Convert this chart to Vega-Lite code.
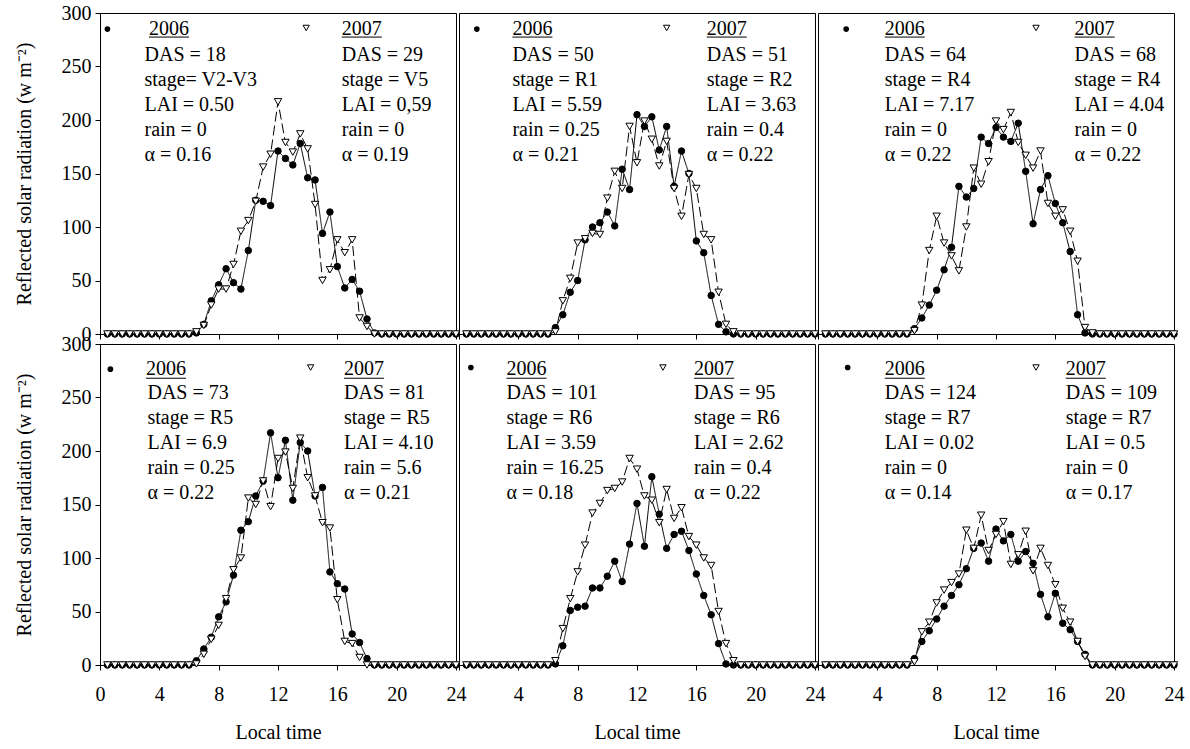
{
"$schema":"https://vega.github.io/schema/vega-lite/v6.json",
"background":"white",
"padding":{"left":13,"top":2,"right":5,"bottom":5},
"bounds":"flush",
"columns":3,
"spacing":{"row":10,"column":3},
"config":{"font":"Liberation Serif","view":{"stroke":"black","strokeWidth":1},
"axis":{"labelFont":"Liberation Serif","labelFontSize":20,"labelColor":"black","titleFont":"Liberation Serif","titleFontSize":20,"titleFontWeight":"normal","titleColor":"black","domainColor":"black","tickColor":"black","grid":false,"labelFlush":false}},
"datasets":{
"notes":[
{"p":1,"year":"y2006","head":"2006","body":"DAS = 18\nstage= V2-V3\nLAI = 0.50\nrain = 0\nα = 0.16"},
{"p":1,"year":"y2007","head":"2007","body":"DAS = 29\nstage = V5\nLAI = 0,59\nrain = 0\nα = 0.19"},
{"p":2,"year":"y2006","head":"2006","body":"DAS = 50\nstage = R1\nLAI = 5.59\nrain = 0.25\nα = 0.21"},
{"p":2,"year":"y2007","head":"2007","body":"DAS = 51\nstage = R2\nLAI = 3.63\nrain = 0.4\nα = 0.22"},
{"p":3,"year":"y2006","head":"2006","body":"DAS = 64\nstage = R4\nLAI = 7.17\nrain = 0\nα = 0.22"},
{"p":3,"year":"y2007","head":"2007","body":"DAS = 68\nstage = R4\nLAI = 4.04\nrain = 0\nα = 0.22"},
{"p":4,"year":"y2006","head":"2006","body":"DAS = 73\nstage = R5\nLAI = 6.9\nrain = 0.25\nα = 0.22"},
{"p":4,"year":"y2007","head":"2007","body":"DAS = 81\nstage = R5\nLAI = 4.10\nrain = 5.6\nα = 0.21"},
{"p":5,"year":"y2006","head":"2006","body":"DAS = 101\nstage = R6\nLAI = 3.59\nrain = 16.25\nα = 0.18"},
{"p":5,"year":"y2007","head":"2007","body":"DAS = 95\nstage = R6\nLAI = 2.62\nrain = 0.4\nα = 0.22"},
{"p":6,"year":"y2006","head":"2006","body":"DAS = 124\nstage = R7\nLAI = 0.02\nrain = 0\nα = 0.14"},
{"p":6,"year":"y2007","head":"2007","body":"DAS = 109\nstage = R7\nLAI = 0.5\nrain = 0\nα = 0.17"}
],
"obs":[
{"p":1,"t":0.5,"y2006":0,"y2007":0},{"p":1,"t":1,"y2006":0,"y2007":0},{"p":1,"t":1.5,"y2006":0,"y2007":0},{"p":1,"t":2,"y2006":0,"y2007":0},{"p":1,"t":2.5,"y2006":0,"y2007":0},{"p":1,"t":3,"y2006":0,"y2007":0},{"p":1,"t":3.5,"y2006":0,"y2007":0},{"p":1,"t":4,"y2006":0,"y2007":0},{"p":1,"t":4.5,"y2006":0,"y2007":0},{"p":1,"t":5,"y2006":0,"y2007":0},{"p":1,"t":5.5,"y2006":0,"y2007":0},{"p":1,"t":6,"y2006":0,"y2007":0},
{"p":1,"t":6.5,"y2006":1,"y2007":2},{"p":1,"t":7,"y2006":9,"y2007":8},{"p":1,"t":7.5,"y2006":31,"y2007":27},{"p":1,"t":8,"y2006":46,"y2007":42},{"p":1,"t":8.5,"y2006":61,"y2007":42},{"p":1,"t":9,"y2006":48,"y2007":65},{"p":1,"t":9.5,"y2006":42,"y2007":96},{"p":1,"t":10,"y2006":78,"y2007":106},{"p":1,"t":10.5,"y2006":125,"y2007":124},{"p":1,"t":11,"y2006":124,"y2007":156},{"p":1,"t":11.5,"y2006":120,"y2007":168},{"p":1,"t":12,"y2006":171,"y2007":217},{"p":1,"t":12.5,"y2006":164,"y2007":179},{"p":1,"t":13,"y2006":158,"y2007":170},{"p":1,"t":13.5,"y2006":178,"y2007":187},{"p":1,"t":14,"y2006":146,"y2007":173},{"p":1,"t":14.5,"y2006":144,"y2007":121},{"p":1,"t":15,"y2006":94,"y2007":50},{"p":1,"t":15.5,"y2006":114,"y2007":60},{"p":1,"t":16,"y2006":63,"y2007":88},{"p":1,"t":16.5,"y2006":43,"y2007":76},{"p":1,"t":17,"y2006":51,"y2007":88},{"p":1,"t":17.5,"y2006":40,"y2007":15},{"p":1,"t":18,"y2006":14,"y2007":7},{"p":1,"t":18.5,"y2006":1,"y2007":0},
{"p":1,"t":19,"y2006":0,"y2007":0},{"p":1,"t":19.5,"y2006":0,"y2007":0},{"p":1,"t":20,"y2006":0,"y2007":0},{"p":1,"t":20.5,"y2006":0,"y2007":0},{"p":1,"t":21,"y2006":0,"y2007":0},{"p":1,"t":21.5,"y2006":0,"y2007":0},{"p":1,"t":22,"y2006":0,"y2007":0},{"p":1,"t":22.5,"y2006":0,"y2007":0},{"p":1,"t":23,"y2006":0,"y2007":0},{"p":1,"t":23.5,"y2006":0,"y2007":0},{"p":1,"t":24,"y2006":0,"y2007":0},
{"p":2,"t":0.5,"y2006":0,"y2007":0},{"p":2,"t":1,"y2006":0,"y2007":0},{"p":2,"t":1.5,"y2006":0,"y2007":0},{"p":2,"t":2,"y2006":0,"y2007":0},{"p":2,"t":2.5,"y2006":0,"y2007":0},{"p":2,"t":3,"y2006":0,"y2007":0},{"p":2,"t":3.5,"y2006":0,"y2007":0},{"p":2,"t":4,"y2006":0,"y2007":0},{"p":2,"t":4.5,"y2006":0,"y2007":0},{"p":2,"t":5,"y2006":0,"y2007":0},{"p":2,"t":5.5,"y2006":0,"y2007":0},{"p":2,"t":6,"y2006":0,"y2007":0},
{"p":2,"t":6.5,"y2006":6,"y2007":2},{"p":2,"t":7,"y2006":18,"y2007":31},{"p":2,"t":7.5,"y2006":39,"y2007":52},{"p":2,"t":8,"y2006":50,"y2007":85},{"p":2,"t":8.5,"y2006":88,"y2007":89},{"p":2,"t":9,"y2006":100,"y2007":94},{"p":2,"t":9.5,"y2006":104,"y2007":93},{"p":2,"t":10,"y2006":114,"y2007":127},{"p":2,"t":10.5,"y2006":101,"y2007":152},{"p":2,"t":11,"y2006":154,"y2007":136},{"p":2,"t":11.5,"y2006":135,"y2007":194},{"p":2,"t":12,"y2006":205,"y2007":160},{"p":2,"t":12.5,"y2006":194,"y2007":199},{"p":2,"t":13,"y2006":203,"y2007":182},{"p":2,"t":13.5,"y2006":172,"y2007":157},{"p":2,"t":14,"y2006":194,"y2007":180},{"p":2,"t":14.5,"y2006":138,"y2007":136},{"p":2,"t":15,"y2006":171,"y2007":110},{"p":2,"t":15.5,"y2006":150,"y2007":149},{"p":2,"t":16,"y2006":87,"y2007":136},{"p":2,"t":16.5,"y2006":76,"y2007":93},{"p":2,"t":17,"y2006":36,"y2007":88},{"p":2,"t":17.5,"y2006":9,"y2007":39},{"p":2,"t":18,"y2006":2,"y2007":9},{"p":2,"t":18.5,"y2006":0,"y2007":2},
{"p":2,"t":19,"y2006":0,"y2007":0},{"p":2,"t":19.5,"y2006":0,"y2007":0},{"p":2,"t":20,"y2006":0,"y2007":0},{"p":2,"t":20.5,"y2006":0,"y2007":0},{"p":2,"t":21,"y2006":0,"y2007":0},{"p":2,"t":21.5,"y2006":0,"y2007":0},{"p":2,"t":22,"y2006":0,"y2007":0},{"p":2,"t":22.5,"y2006":0,"y2007":0},{"p":2,"t":23,"y2006":0,"y2007":0},{"p":2,"t":23.5,"y2006":0,"y2007":0},{"p":2,"t":24,"y2006":0,"y2007":0},
{"p":3,"t":0.5,"y2006":0,"y2007":0},{"p":3,"t":1,"y2006":0,"y2007":0},{"p":3,"t":1.5,"y2006":0,"y2007":0},{"p":3,"t":2,"y2006":0,"y2007":0},{"p":3,"t":2.5,"y2006":0,"y2007":0},{"p":3,"t":3,"y2006":0,"y2007":0},{"p":3,"t":3.5,"y2006":0,"y2007":0},{"p":3,"t":4,"y2006":0,"y2007":0},{"p":3,"t":4.5,"y2006":0,"y2007":0},{"p":3,"t":5,"y2006":0,"y2007":0},{"p":3,"t":5.5,"y2006":0,"y2007":0},{"p":3,"t":6,"y2006":0,"y2007":0},
{"p":3,"t":6.5,"y2006":5,"y2007":3},{"p":3,"t":7,"y2006":15,"y2007":27},{"p":3,"t":7.5,"y2006":27,"y2007":78},{"p":3,"t":8,"y2006":41,"y2007":110},{"p":3,"t":8.5,"y2006":60,"y2007":85},{"p":3,"t":9,"y2006":81,"y2007":73},{"p":3,"t":9.5,"y2006":138,"y2007":59},{"p":3,"t":10,"y2006":128,"y2007":100},{"p":3,"t":10.5,"y2006":136,"y2007":155},{"p":3,"t":11,"y2006":184,"y2007":140},{"p":3,"t":11.5,"y2006":178,"y2007":161},{"p":3,"t":12,"y2006":193,"y2007":199},{"p":3,"t":12.5,"y2006":184,"y2007":191},{"p":3,"t":13,"y2006":180,"y2007":207},{"p":3,"t":13.5,"y2006":197,"y2007":179},{"p":3,"t":14,"y2006":152,"y2007":167},{"p":3,"t":14.5,"y2006":103,"y2007":155},{"p":3,"t":15,"y2006":135,"y2007":171},{"p":3,"t":15.5,"y2006":148,"y2007":122},{"p":3,"t":16,"y2006":122,"y2007":110},{"p":3,"t":16.5,"y2006":104,"y2007":116},{"p":3,"t":17,"y2006":77,"y2007":96},{"p":3,"t":17.5,"y2006":18,"y2007":68},{"p":3,"t":18,"y2006":1,"y2007":6},{"p":3,"t":18.5,"y2006":0,"y2007":1},
{"p":3,"t":19,"y2006":0,"y2007":0},{"p":3,"t":19.5,"y2006":0,"y2007":0},{"p":3,"t":20,"y2006":0,"y2007":0},{"p":3,"t":20.5,"y2006":0,"y2007":0},{"p":3,"t":21,"y2006":0,"y2007":0},{"p":3,"t":21.5,"y2006":0,"y2007":0},{"p":3,"t":22,"y2006":0,"y2007":0},{"p":3,"t":22.5,"y2006":0,"y2007":0},{"p":3,"t":23,"y2006":0,"y2007":0},{"p":3,"t":23.5,"y2006":0,"y2007":0},{"p":3,"t":24,"y2006":0,"y2007":0},
{"p":4,"t":0.5,"y2006":0,"y2007":0},{"p":4,"t":1,"y2006":0,"y2007":0},{"p":4,"t":1.5,"y2006":0,"y2007":0},{"p":4,"t":2,"y2006":0,"y2007":0},{"p":4,"t":2.5,"y2006":0,"y2007":0},{"p":4,"t":3,"y2006":0,"y2007":0},{"p":4,"t":3.5,"y2006":0,"y2007":0},{"p":4,"t":4,"y2006":0,"y2007":0},{"p":4,"t":4.5,"y2006":0,"y2007":0},{"p":4,"t":5,"y2006":0,"y2007":0},{"p":4,"t":5.5,"y2006":0,"y2007":0},{"p":4,"t":6,"y2006":0,"y2007":0},
{"p":4,"t":6.5,"y2006":4,"y2007":1},{"p":4,"t":7,"y2006":15,"y2007":10},{"p":4,"t":7.5,"y2006":26,"y2007":24},{"p":4,"t":8,"y2006":45,"y2007":37},{"p":4,"t":8.5,"y2006":59,"y2007":62},{"p":4,"t":9,"y2006":84,"y2007":89},{"p":4,"t":9.5,"y2006":126,"y2007":100},{"p":4,"t":10,"y2006":134,"y2007":156},{"p":4,"t":10.5,"y2006":158,"y2007":150},{"p":4,"t":11,"y2006":172,"y2007":172},{"p":4,"t":11.5,"y2006":217,"y2007":148},{"p":4,"t":12,"y2006":175,"y2007":193},{"p":4,"t":12.5,"y2006":210,"y2007":199},{"p":4,"t":13,"y2006":154,"y2007":165},{"p":4,"t":13.5,"y2006":208,"y2007":212},{"p":4,"t":14,"y2006":200,"y2007":175},{"p":4,"t":14.5,"y2006":158,"y2007":158},{"p":4,"t":15,"y2006":166,"y2007":133},{"p":4,"t":15.5,"y2006":87,"y2007":128},{"p":4,"t":16,"y2006":76,"y2007":61},{"p":4,"t":16.5,"y2006":71,"y2007":22},{"p":4,"t":17,"y2006":29,"y2007":20},{"p":4,"t":17.5,"y2006":21,"y2007":7},{"p":4,"t":18,"y2006":6,"y2007":0},{"p":4,"t":18.5,"y2006":0,"y2007":0},
{"p":4,"t":19,"y2006":0,"y2007":0},{"p":4,"t":19.5,"y2006":0,"y2007":0},{"p":4,"t":20,"y2006":0,"y2007":0},{"p":4,"t":20.5,"y2006":0,"y2007":0},{"p":4,"t":21,"y2006":0,"y2007":0},{"p":4,"t":21.5,"y2006":0,"y2007":0},{"p":4,"t":22,"y2006":0,"y2007":0},{"p":4,"t":22.5,"y2006":0,"y2007":0},{"p":4,"t":23,"y2006":0,"y2007":0},{"p":4,"t":23.5,"y2006":0,"y2007":0},{"p":4,"t":24,"y2006":0,"y2007":0},
{"p":5,"t":0.5,"y2006":0,"y2007":0},{"p":5,"t":1,"y2006":0,"y2007":0},{"p":5,"t":1.5,"y2006":0,"y2007":0},{"p":5,"t":2,"y2006":0,"y2007":0},{"p":5,"t":2.5,"y2006":0,"y2007":0},{"p":5,"t":3,"y2006":0,"y2007":0},{"p":5,"t":3.5,"y2006":0,"y2007":0},{"p":5,"t":4,"y2006":0,"y2007":0},{"p":5,"t":4.5,"y2006":0,"y2007":0},{"p":5,"t":5,"y2006":0,"y2007":0},{"p":5,"t":5.5,"y2006":0,"y2007":0},{"p":5,"t":6,"y2006":0,"y2007":0},
{"p":5,"t":6.5,"y2006":1,"y2007":4},{"p":5,"t":7,"y2006":18,"y2007":34},{"p":5,"t":7.5,"y2006":51,"y2007":62},{"p":5,"t":8,"y2006":54,"y2007":87},{"p":5,"t":8.5,"y2006":55,"y2007":112},{"p":5,"t":9,"y2006":72,"y2007":142},{"p":5,"t":9.5,"y2006":72,"y2007":151},{"p":5,"t":10,"y2006":83,"y2007":163},{"p":5,"t":10.5,"y2006":97,"y2007":165},{"p":5,"t":11,"y2006":78,"y2007":171},{"p":5,"t":11.5,"y2006":113,"y2007":193},{"p":5,"t":12,"y2006":151,"y2007":183},{"p":5,"t":12.5,"y2006":111,"y2007":158},{"p":5,"t":13,"y2006":176,"y2007":154},{"p":5,"t":13.5,"y2006":141,"y2007":133},{"p":5,"t":14,"y2006":109,"y2007":164},{"p":5,"t":14.5,"y2006":122,"y2007":137},{"p":5,"t":15,"y2006":125,"y2007":147},{"p":5,"t":15.5,"y2006":107,"y2007":120},{"p":5,"t":16,"y2006":85,"y2007":112},{"p":5,"t":16.5,"y2006":65,"y2007":100},{"p":5,"t":17,"y2006":47,"y2007":93},{"p":5,"t":17.5,"y2006":20,"y2007":50},{"p":5,"t":18,"y2006":1,"y2007":20},{"p":5,"t":18.5,"y2006":0,"y2007":4},
{"p":5,"t":19,"y2006":0,"y2007":0},{"p":5,"t":19.5,"y2006":0,"y2007":0},{"p":5,"t":20,"y2006":0,"y2007":0},{"p":5,"t":20.5,"y2006":0,"y2007":0},{"p":5,"t":21,"y2006":0,"y2007":0},{"p":5,"t":21.5,"y2006":0,"y2007":0},{"p":5,"t":22,"y2006":0,"y2007":0},{"p":5,"t":22.5,"y2006":0,"y2007":0},{"p":5,"t":23,"y2006":0,"y2007":0},{"p":5,"t":23.5,"y2006":0,"y2007":0},{"p":5,"t":24,"y2006":0,"y2007":0},
{"p":6,"t":0.5,"y2006":0,"y2007":0},{"p":6,"t":1,"y2006":0,"y2007":0},{"p":6,"t":1.5,"y2006":0,"y2007":0},{"p":6,"t":2,"y2006":0,"y2007":0},{"p":6,"t":2.5,"y2006":0,"y2007":0},{"p":6,"t":3,"y2006":0,"y2007":0},{"p":6,"t":3.5,"y2006":0,"y2007":0},{"p":6,"t":4,"y2006":0,"y2007":0},{"p":6,"t":4.5,"y2006":0,"y2007":0},{"p":6,"t":5,"y2006":0,"y2007":0},{"p":6,"t":5.5,"y2006":0,"y2007":0},{"p":6,"t":6,"y2006":0,"y2007":0},
{"p":6,"t":6.5,"y2006":6,"y2007":3},{"p":6,"t":7,"y2006":22,"y2007":31},{"p":6,"t":7.5,"y2006":32,"y2007":40},{"p":6,"t":8,"y2006":43,"y2007":58},{"p":6,"t":8.5,"y2006":55,"y2007":70},{"p":6,"t":9,"y2006":65,"y2007":77},{"p":6,"t":9.5,"y2006":75,"y2007":85},{"p":6,"t":10,"y2006":90,"y2007":126},{"p":6,"t":10.5,"y2006":109,"y2007":109},{"p":6,"t":11,"y2006":114,"y2007":140},{"p":6,"t":11.5,"y2006":97,"y2007":107},{"p":6,"t":12,"y2006":127,"y2007":122},{"p":6,"t":12.5,"y2006":116,"y2007":134},{"p":6,"t":13,"y2006":122,"y2007":94},{"p":6,"t":13.5,"y2006":97,"y2007":103},{"p":6,"t":14,"y2006":106,"y2007":125},{"p":6,"t":14.5,"y2006":95,"y2007":88},{"p":6,"t":15,"y2006":66,"y2007":109},{"p":6,"t":15.5,"y2006":45,"y2007":93},{"p":6,"t":16,"y2006":67,"y2007":75},{"p":6,"t":16.5,"y2006":39,"y2007":53},{"p":6,"t":17,"y2006":33,"y2007":40},{"p":6,"t":17.5,"y2006":22,"y2007":22},{"p":6,"t":18,"y2006":10,"y2007":8},{"p":6,"t":18.5,"y2006":0,"y2007":0},
{"p":6,"t":19,"y2006":0,"y2007":0},{"p":6,"t":19.5,"y2006":0,"y2007":0},{"p":6,"t":20,"y2006":0,"y2007":0},{"p":6,"t":20.5,"y2006":0,"y2007":0},{"p":6,"t":21,"y2006":0,"y2007":0},{"p":6,"t":21.5,"y2006":0,"y2007":0},{"p":6,"t":22,"y2006":0,"y2007":0},{"p":6,"t":22.5,"y2006":0,"y2007":0},{"p":6,"t":23,"y2006":0,"y2007":0},{"p":6,"t":23.5,"y2006":0,"y2007":0},{"p":6,"t":24,"y2006":0,"y2007":0}
]},
"concat":[
{"width":356,"height":321,"layer":[
{"data":{"name":"obs"},"transform":[{"filter":"datum.p == 1"},{"fold":["y2006","y2007"],"as":["year","v"]}],"mark":{"type":"line","color":"black","strokeWidth":1},"encoding":{"x":{"field":"t","type":"quantitative","scale":{"domain":[0,24],"nice":false},"axis":{"values":[0,4,8,12,16,20,24],"labels":false,"title":null,"tickSize":5}},"y":{"field":"v","type":"quantitative","scale":{"domain":[0,300],"nice":false},"axis":{"values":[0,50,100,150,200,250,300],"title":"Reflected solar radiation (w m⁻²)","labelPadding":4,"tickSize":5,"titlePadding":27}},"strokeDash":{"field":"year","type":"nominal","scale":{"domain":["y2006","y2007"],"range":[[1,0],[10,4]]},"legend":null}}},
{"data":{"name":"obs"},"transform":[{"filter":"datum.p == 1"},{"fold":["y2006","y2007"],"as":["year","v"]}],"mark":{"type":"point","filled":true,"stroke":"black","strokeWidth":1,"opacity":1},"encoding":{"x":{"field":"t","type":"quantitative"},"y":{"field":"v","type":"quantitative"},"shape":{"field":"year","type":"nominal","scale":{"domain":["y2006","y2007"],"range":["circle","triangle-down"]},"legend":null},"fill":{"field":"year","type":"nominal","scale":{"domain":["y2006","y2007"],"range":["black","white"]},"legend":null},"size":{"field":"year","type":"ordinal","scale":{"domain":["y2006","y2007"],"range":[42,55]},"legend":null},"order":{"field":"year"}}},
{"data":{"name":"notes"},"transform":[{"filter":"datum.p == 1 && datum.year == 'y2006'"}],"mark":{"type":"text","align":"left","baseline":"middle","fontSize":20,"color":"black"},"encoding":{"x":{"datum":3.3},"y":{"datum":285},"text":{"field":"head"}}},
{"data":{"name":"notes"},"transform":[{"filter":"datum.p == 1 && datum.year == 'y2006'"}],"mark":{"type":"text","align":"left","baseline":"top","fontSize":20,"lineBreak":"\n","lineHeight":25,"color":"black"},"encoding":{"x":{"datum":3.0},"y":{"datum":270.5},"text":{"field":"body"}}},
{"data":{"name":"notes"},"transform":[{"filter":"datum.p == 1 && datum.year == 'y2006'"}],"mark":{"type":"point","shape":"circle","filled":true,"color":"black","size":32,"opacity":1},"encoding":{"x":{"datum":0.5},"y":{"datum":285}}},
{"data":{"name":"notes"},"transform":[{"filter":"datum.p == 1 && datum.year == 'y2006'"}],"mark":{"type":"rule","color":"black","strokeWidth":1},"encoding":{"x":{"datum":3.3},"x2":{"datum":6.0},"y":{"datum":277.5}}},
{"data":{"name":"notes"},"transform":[{"filter":"datum.p == 1 && datum.year == 'y2007'"}],"mark":{"type":"text","align":"left","baseline":"middle","fontSize":20,"color":"black"},"encoding":{"x":{"datum":16.3},"y":{"datum":285},"text":{"field":"head"}}},
{"data":{"name":"notes"},"transform":[{"filter":"datum.p == 1 && datum.year == 'y2007'"}],"mark":{"type":"text","align":"left","baseline":"top","fontSize":20,"lineBreak":"\n","lineHeight":25,"color":"black"},"encoding":{"x":{"datum":16.3},"y":{"datum":270.5},"text":{"field":"body"}}},
{"data":{"name":"notes"},"transform":[{"filter":"datum.p == 1 && datum.year == 'y2007'"}],"mark":{"type":"point","shape":"triangle-down","filled":true,"fill":"white","stroke":"black","strokeWidth":1,"size":40,"opacity":1},"encoding":{"x":{"datum":13.9},"y":{"datum":286}}},
{"data":{"name":"notes"},"transform":[{"filter":"datum.p == 1 && datum.year == 'y2007'"}],"mark":{"type":"rule","color":"black","strokeWidth":1},"encoding":{"x":{"datum":16.3},"x2":{"datum":19.0},"y":{"datum":277.5}}}
]},
{"width":356,"height":321,"layer":[
{"data":{"name":"obs"},"transform":[{"filter":"datum.p == 2"},{"fold":["y2006","y2007"],"as":["year","v"]}],"mark":{"type":"line","color":"black","strokeWidth":1},"encoding":{"x":{"field":"t","type":"quantitative","scale":{"domain":[0,24],"nice":false},"axis":{"values":[0,4,8,12,16,20,24],"labels":false,"title":null,"tickSize":5}},"y":{"field":"v","type":"quantitative","scale":{"domain":[0,300],"nice":false},"axis":null},"strokeDash":{"field":"year","type":"nominal","scale":{"domain":["y2006","y2007"],"range":[[1,0],[10,4]]},"legend":null}}},
{"data":{"name":"obs"},"transform":[{"filter":"datum.p == 2"},{"fold":["y2006","y2007"],"as":["year","v"]}],"mark":{"type":"point","filled":true,"stroke":"black","strokeWidth":1,"opacity":1},"encoding":{"x":{"field":"t","type":"quantitative"},"y":{"field":"v","type":"quantitative"},"shape":{"field":"year","type":"nominal","scale":{"domain":["y2006","y2007"],"range":["circle","triangle-down"]},"legend":null},"fill":{"field":"year","type":"nominal","scale":{"domain":["y2006","y2007"],"range":["black","white"]},"legend":null},"size":{"field":"year","type":"ordinal","scale":{"domain":["y2006","y2007"],"range":[42,55]},"legend":null},"order":{"field":"year"}}},
{"data":{"name":"notes"},"transform":[{"filter":"datum.p == 2 && datum.year == 'y2006'"}],"mark":{"type":"text","align":"left","baseline":"middle","fontSize":20,"color":"black"},"encoding":{"x":{"datum":3.6},"y":{"datum":285},"text":{"field":"head"}}},
{"data":{"name":"notes"},"transform":[{"filter":"datum.p == 2 && datum.year == 'y2006'"}],"mark":{"type":"text","align":"left","baseline":"top","fontSize":20,"lineBreak":"\n","lineHeight":25,"color":"black"},"encoding":{"x":{"datum":3.6},"y":{"datum":270.5},"text":{"field":"body"}}},
{"data":{"name":"notes"},"transform":[{"filter":"datum.p == 2 && datum.year == 'y2006'"}],"mark":{"type":"point","shape":"circle","filled":true,"color":"black","size":32,"opacity":1},"encoding":{"x":{"datum":1.2},"y":{"datum":285}}},
{"data":{"name":"notes"},"transform":[{"filter":"datum.p == 2 && datum.year == 'y2006'"}],"mark":{"type":"rule","color":"black","strokeWidth":1},"encoding":{"x":{"datum":3.6},"x2":{"datum":6.3},"y":{"datum":277.5}}},
{"data":{"name":"notes"},"transform":[{"filter":"datum.p == 2 && datum.year == 'y2007'"}],"mark":{"type":"text","align":"left","baseline":"middle","fontSize":20,"color":"black"},"encoding":{"x":{"datum":16.7},"y":{"datum":285},"text":{"field":"head"}}},
{"data":{"name":"notes"},"transform":[{"filter":"datum.p == 2 && datum.year == 'y2007'"}],"mark":{"type":"text","align":"left","baseline":"top","fontSize":20,"lineBreak":"\n","lineHeight":25,"color":"black"},"encoding":{"x":{"datum":16.7},"y":{"datum":270.5},"text":{"field":"body"}}},
{"data":{"name":"notes"},"transform":[{"filter":"datum.p == 2 && datum.year == 'y2007'"}],"mark":{"type":"point","shape":"triangle-down","filled":true,"fill":"white","stroke":"black","strokeWidth":1,"size":40,"opacity":1},"encoding":{"x":{"datum":14.0},"y":{"datum":286}}},
{"data":{"name":"notes"},"transform":[{"filter":"datum.p == 2 && datum.year == 'y2007'"}],"mark":{"type":"rule","color":"black","strokeWidth":1},"encoding":{"x":{"datum":16.7},"x2":{"datum":19.4},"y":{"datum":277.5}}}
]},
{"width":356,"height":321,"layer":[
{"data":{"name":"obs"},"transform":[{"filter":"datum.p == 3"},{"fold":["y2006","y2007"],"as":["year","v"]}],"mark":{"type":"line","color":"black","strokeWidth":1},"encoding":{"x":{"field":"t","type":"quantitative","scale":{"domain":[0,24],"nice":false},"axis":{"values":[0,4,8,12,16,20,24],"labels":false,"title":null,"tickSize":5}},"y":{"field":"v","type":"quantitative","scale":{"domain":[0,300],"nice":false},"axis":null},"strokeDash":{"field":"year","type":"nominal","scale":{"domain":["y2006","y2007"],"range":[[1,0],[10,4]]},"legend":null}}},
{"data":{"name":"obs"},"transform":[{"filter":"datum.p == 3"},{"fold":["y2006","y2007"],"as":["year","v"]}],"mark":{"type":"point","filled":true,"stroke":"black","strokeWidth":1,"opacity":1},"encoding":{"x":{"field":"t","type":"quantitative"},"y":{"field":"v","type":"quantitative"},"shape":{"field":"year","type":"nominal","scale":{"domain":["y2006","y2007"],"range":["circle","triangle-down"]},"legend":null},"fill":{"field":"year","type":"nominal","scale":{"domain":["y2006","y2007"],"range":["black","white"]},"legend":null},"size":{"field":"year","type":"ordinal","scale":{"domain":["y2006","y2007"],"range":[42,55]},"legend":null},"order":{"field":"year"}}},
{"data":{"name":"notes"},"transform":[{"filter":"datum.p == 3 && datum.year == 'y2006'"}],"mark":{"type":"text","align":"left","baseline":"middle","fontSize":20,"color":"black"},"encoding":{"x":{"datum":4.5},"y":{"datum":285},"text":{"field":"head"}}},
{"data":{"name":"notes"},"transform":[{"filter":"datum.p == 3 && datum.year == 'y2006'"}],"mark":{"type":"text","align":"left","baseline":"top","fontSize":20,"lineBreak":"\n","lineHeight":25,"color":"black"},"encoding":{"x":{"datum":4.5},"y":{"datum":270.5},"text":{"field":"body"}}},
{"data":{"name":"notes"},"transform":[{"filter":"datum.p == 3 && datum.year == 'y2006'"}],"mark":{"type":"point","shape":"circle","filled":true,"color":"black","size":32,"opacity":1},"encoding":{"x":{"datum":1.9},"y":{"datum":285}}},
{"data":{"name":"notes"},"transform":[{"filter":"datum.p == 3 && datum.year == 'y2006'"}],"mark":{"type":"rule","color":"black","strokeWidth":1},"encoding":{"x":{"datum":4.5},"x2":{"datum":7.2},"y":{"datum":277.5}}},
{"data":{"name":"notes"},"transform":[{"filter":"datum.p == 3 && datum.year == 'y2007'"}],"mark":{"type":"text","align":"left","baseline":"middle","fontSize":20,"color":"black"},"encoding":{"x":{"datum":17.3},"y":{"datum":285},"text":{"field":"head"}}},
{"data":{"name":"notes"},"transform":[{"filter":"datum.p == 3 && datum.year == 'y2007'"}],"mark":{"type":"text","align":"left","baseline":"top","fontSize":20,"lineBreak":"\n","lineHeight":25,"color":"black"},"encoding":{"x":{"datum":17.3},"y":{"datum":270.5},"text":{"field":"body"}}},
{"data":{"name":"notes"},"transform":[{"filter":"datum.p == 3 && datum.year == 'y2007'"}],"mark":{"type":"point","shape":"triangle-down","filled":true,"fill":"white","stroke":"black","strokeWidth":1,"size":40,"opacity":1},"encoding":{"x":{"datum":14.7},"y":{"datum":286}}},
{"data":{"name":"notes"},"transform":[{"filter":"datum.p == 3 && datum.year == 'y2007'"}],"mark":{"type":"rule","color":"black","strokeWidth":1},"encoding":{"x":{"datum":17.3},"x2":{"datum":20.0},"y":{"datum":277.5}}}
]},
{"width":356,"height":321,"layer":[
{"data":{"name":"obs"},"transform":[{"filter":"datum.p == 4"},{"fold":["y2006","y2007"],"as":["year","v"]}],"mark":{"type":"line","color":"black","strokeWidth":1},"encoding":{"x":{"field":"t","type":"quantitative","scale":{"domain":[0,24],"nice":false},"axis":{"values":[0,4,8,12,16,20,24],"title":"Local time","labelPadding":14,"tickSize":5,"titlePadding":18}},"y":{"field":"v","type":"quantitative","scale":{"domain":[0,300],"nice":false},"axis":{"values":[0,50,100,150,200,250,300],"title":"Reflected solar radiation (w m⁻²)","labelPadding":4,"tickSize":5,"titlePadding":27}},"strokeDash":{"field":"year","type":"nominal","scale":{"domain":["y2006","y2007"],"range":[[1,0],[10,4]]},"legend":null}}},
{"data":{"name":"obs"},"transform":[{"filter":"datum.p == 4"},{"fold":["y2006","y2007"],"as":["year","v"]}],"mark":{"type":"point","filled":true,"stroke":"black","strokeWidth":1,"opacity":1},"encoding":{"x":{"field":"t","type":"quantitative"},"y":{"field":"v","type":"quantitative"},"shape":{"field":"year","type":"nominal","scale":{"domain":["y2006","y2007"],"range":["circle","triangle-down"]},"legend":null},"fill":{"field":"year","type":"nominal","scale":{"domain":["y2006","y2007"],"range":["black","white"]},"legend":null},"size":{"field":"year","type":"ordinal","scale":{"domain":["y2006","y2007"],"range":[42,55]},"legend":null},"order":{"field":"year"}}},
{"data":{"name":"notes"},"transform":[{"filter":"datum.p == 4 && datum.year == 'y2006'"}],"mark":{"type":"text","align":"left","baseline":"middle","fontSize":20,"color":"black"},"encoding":{"x":{"datum":3.1},"y":{"datum":276.5},"text":{"field":"head"}}},
{"data":{"name":"notes"},"transform":[{"filter":"datum.p == 4 && datum.year == 'y2006'"}],"mark":{"type":"text","align":"left","baseline":"top","fontSize":20,"lineBreak":"\n","lineHeight":25,"color":"black"},"encoding":{"x":{"datum":3.2},"y":{"datum":263.5},"text":{"field":"body"}}},
{"data":{"name":"notes"},"transform":[{"filter":"datum.p == 4 && datum.year == 'y2006'"}],"mark":{"type":"point","shape":"circle","filled":true,"color":"black","size":32,"opacity":1},"encoding":{"x":{"datum":0.7},"y":{"datum":276.5}}},
{"data":{"name":"notes"},"transform":[{"filter":"datum.p == 4 && datum.year == 'y2006'"}],"mark":{"type":"rule","color":"black","strokeWidth":1},"encoding":{"x":{"datum":3.1},"x2":{"datum":5.8},"y":{"datum":268}}},
{"data":{"name":"notes"},"transform":[{"filter":"datum.p == 4 && datum.year == 'y2007'"}],"mark":{"type":"text","align":"left","baseline":"middle","fontSize":20,"color":"black"},"encoding":{"x":{"datum":16.45},"y":{"datum":276.5},"text":{"field":"head"}}},
{"data":{"name":"notes"},"transform":[{"filter":"datum.p == 4 && datum.year == 'y2007'"}],"mark":{"type":"text","align":"left","baseline":"top","fontSize":20,"lineBreak":"\n","lineHeight":25,"color":"black"},"encoding":{"x":{"datum":16.45},"y":{"datum":263.5},"text":{"field":"body"}}},
{"data":{"name":"notes"},"transform":[{"filter":"datum.p == 4 && datum.year == 'y2007'"}],"mark":{"type":"point","shape":"triangle-down","filled":true,"fill":"white","stroke":"black","strokeWidth":1,"size":40,"opacity":1},"encoding":{"x":{"datum":14.2},"y":{"datum":278}}},
{"data":{"name":"notes"},"transform":[{"filter":"datum.p == 4 && datum.year == 'y2007'"}],"mark":{"type":"rule","color":"black","strokeWidth":1},"encoding":{"x":{"datum":16.45},"x2":{"datum":19.15},"y":{"datum":268}}}
]},
{"width":356,"height":321,"layer":[
{"data":{"name":"obs"},"transform":[{"filter":"datum.p == 5"},{"fold":["y2006","y2007"],"as":["year","v"]}],"mark":{"type":"line","color":"black","strokeWidth":1},"encoding":{"x":{"field":"t","type":"quantitative","scale":{"domain":[0,24],"nice":false},"axis":{"values":[0,4,8,12,16,20,24],"title":"Local time","labelPadding":14,"tickSize":5,"titlePadding":18,"labelExpr":"datum.value == 0 ? '' : datum.label"}},"y":{"field":"v","type":"quantitative","scale":{"domain":[0,300],"nice":false},"axis":null},"strokeDash":{"field":"year","type":"nominal","scale":{"domain":["y2006","y2007"],"range":[[1,0],[10,4]]},"legend":null}}},
{"data":{"name":"obs"},"transform":[{"filter":"datum.p == 5"},{"fold":["y2006","y2007"],"as":["year","v"]}],"mark":{"type":"point","filled":true,"stroke":"black","strokeWidth":1,"opacity":1},"encoding":{"x":{"field":"t","type":"quantitative"},"y":{"field":"v","type":"quantitative"},"shape":{"field":"year","type":"nominal","scale":{"domain":["y2006","y2007"],"range":["circle","triangle-down"]},"legend":null},"fill":{"field":"year","type":"nominal","scale":{"domain":["y2006","y2007"],"range":["black","white"]},"legend":null},"size":{"field":"year","type":"ordinal","scale":{"domain":["y2006","y2007"],"range":[42,55]},"legend":null},"order":{"field":"year"}}},
{"data":{"name":"notes"},"transform":[{"filter":"datum.p == 5 && datum.year == 'y2006'"}],"mark":{"type":"text","align":"left","baseline":"middle","fontSize":20,"color":"black"},"encoding":{"x":{"datum":3.2},"y":{"datum":276.5},"text":{"field":"head"}}},
{"data":{"name":"notes"},"transform":[{"filter":"datum.p == 5 && datum.year == 'y2006'"}],"mark":{"type":"text","align":"left","baseline":"top","fontSize":20,"lineBreak":"\n","lineHeight":25,"color":"black"},"encoding":{"x":{"datum":3.2},"y":{"datum":263.5},"text":{"field":"body"}}},
{"data":{"name":"notes"},"transform":[{"filter":"datum.p == 5 && datum.year == 'y2006'"}],"mark":{"type":"point","shape":"circle","filled":true,"color":"black","size":32,"opacity":1},"encoding":{"x":{"datum":0.8},"y":{"datum":278}}},
{"data":{"name":"notes"},"transform":[{"filter":"datum.p == 5 && datum.year == 'y2006'"}],"mark":{"type":"rule","color":"black","strokeWidth":1},"encoding":{"x":{"datum":3.2},"x2":{"datum":5.9},"y":{"datum":268}}},
{"data":{"name":"notes"},"transform":[{"filter":"datum.p == 5 && datum.year == 'y2007'"}],"mark":{"type":"text","align":"left","baseline":"middle","fontSize":20,"color":"black"},"encoding":{"x":{"datum":15.85},"y":{"datum":276.5},"text":{"field":"head"}}},
{"data":{"name":"notes"},"transform":[{"filter":"datum.p == 5 && datum.year == 'y2007'"}],"mark":{"type":"text","align":"left","baseline":"top","fontSize":20,"lineBreak":"\n","lineHeight":25,"color":"black"},"encoding":{"x":{"datum":15.85},"y":{"datum":263.5},"text":{"field":"body"}}},
{"data":{"name":"notes"},"transform":[{"filter":"datum.p == 5 && datum.year == 'y2007'"}],"mark":{"type":"point","shape":"triangle-down","filled":true,"fill":"white","stroke":"black","strokeWidth":1,"size":40,"opacity":1},"encoding":{"x":{"datum":13.75},"y":{"datum":278}}},
{"data":{"name":"notes"},"transform":[{"filter":"datum.p == 5 && datum.year == 'y2007'"}],"mark":{"type":"rule","color":"black","strokeWidth":1},"encoding":{"x":{"datum":15.85},"x2":{"datum":18.55},"y":{"datum":268}}}
]},
{"width":356,"height":321,"layer":[
{"data":{"name":"obs"},"transform":[{"filter":"datum.p == 6"},{"fold":["y2006","y2007"],"as":["year","v"]}],"mark":{"type":"line","color":"black","strokeWidth":1},"encoding":{"x":{"field":"t","type":"quantitative","scale":{"domain":[0,24],"nice":false},"axis":{"values":[0,4,8,12,16,20,24],"title":"Local time","labelPadding":14,"tickSize":5,"titlePadding":18,"labelExpr":"datum.value == 0 ? '' : datum.label"}},"y":{"field":"v","type":"quantitative","scale":{"domain":[0,300],"nice":false},"axis":null},"strokeDash":{"field":"year","type":"nominal","scale":{"domain":["y2006","y2007"],"range":[[1,0],[10,4]]},"legend":null}}},
{"data":{"name":"obs"},"transform":[{"filter":"datum.p == 6"},{"fold":["y2006","y2007"],"as":["year","v"]}],"mark":{"type":"point","filled":true,"stroke":"black","strokeWidth":1,"opacity":1},"encoding":{"x":{"field":"t","type":"quantitative"},"y":{"field":"v","type":"quantitative"},"shape":{"field":"year","type":"nominal","scale":{"domain":["y2006","y2007"],"range":["circle","triangle-down"]},"legend":null},"fill":{"field":"year","type":"nominal","scale":{"domain":["y2006","y2007"],"range":["black","white"]},"legend":null},"size":{"field":"year","type":"ordinal","scale":{"domain":["y2006","y2007"],"range":[42,55]},"legend":null},"order":{"field":"year"}}},
{"data":{"name":"notes"},"transform":[{"filter":"datum.p == 6 && datum.year == 'y2006'"}],"mark":{"type":"text","align":"left","baseline":"middle","fontSize":20,"color":"black"},"encoding":{"x":{"datum":4.5},"y":{"datum":276.5},"text":{"field":"head"}}},
{"data":{"name":"notes"},"transform":[{"filter":"datum.p == 6 && datum.year == 'y2006'"}],"mark":{"type":"text","align":"left","baseline":"top","fontSize":20,"lineBreak":"\n","lineHeight":25,"color":"black"},"encoding":{"x":{"datum":4.5},"y":{"datum":263.5},"text":{"field":"body"}}},
{"data":{"name":"notes"},"transform":[{"filter":"datum.p == 6 && datum.year == 'y2006'"}],"mark":{"type":"point","shape":"circle","filled":true,"color":"black","size":32,"opacity":1},"encoding":{"x":{"datum":2.0},"y":{"datum":278}}},
{"data":{"name":"notes"},"transform":[{"filter":"datum.p == 6 && datum.year == 'y2006'"}],"mark":{"type":"rule","color":"black","strokeWidth":1},"encoding":{"x":{"datum":4.5},"x2":{"datum":7.2},"y":{"datum":268}}},
{"data":{"name":"notes"},"transform":[{"filter":"datum.p == 6 && datum.year == 'y2007'"}],"mark":{"type":"text","align":"left","baseline":"middle","fontSize":20,"color":"black"},"encoding":{"x":{"datum":16.7},"y":{"datum":276.5},"text":{"field":"head"}}},
{"data":{"name":"notes"},"transform":[{"filter":"datum.p == 6 && datum.year == 'y2007'"}],"mark":{"type":"text","align":"left","baseline":"top","fontSize":20,"lineBreak":"\n","lineHeight":25,"color":"black"},"encoding":{"x":{"datum":16.7},"y":{"datum":263.5},"text":{"field":"body"}}},
{"data":{"name":"notes"},"transform":[{"filter":"datum.p == 6 && datum.year == 'y2007'"}],"mark":{"type":"point","shape":"triangle-down","filled":true,"fill":"white","stroke":"black","strokeWidth":1,"size":40,"opacity":1},"encoding":{"x":{"datum":14.7},"y":{"datum":278}}},
{"data":{"name":"notes"},"transform":[{"filter":"datum.p == 6 && datum.year == 'y2007'"}],"mark":{"type":"rule","color":"black","strokeWidth":1},"encoding":{"x":{"datum":16.7},"x2":{"datum":19.4},"y":{"datum":268}}}
]}
]
}
